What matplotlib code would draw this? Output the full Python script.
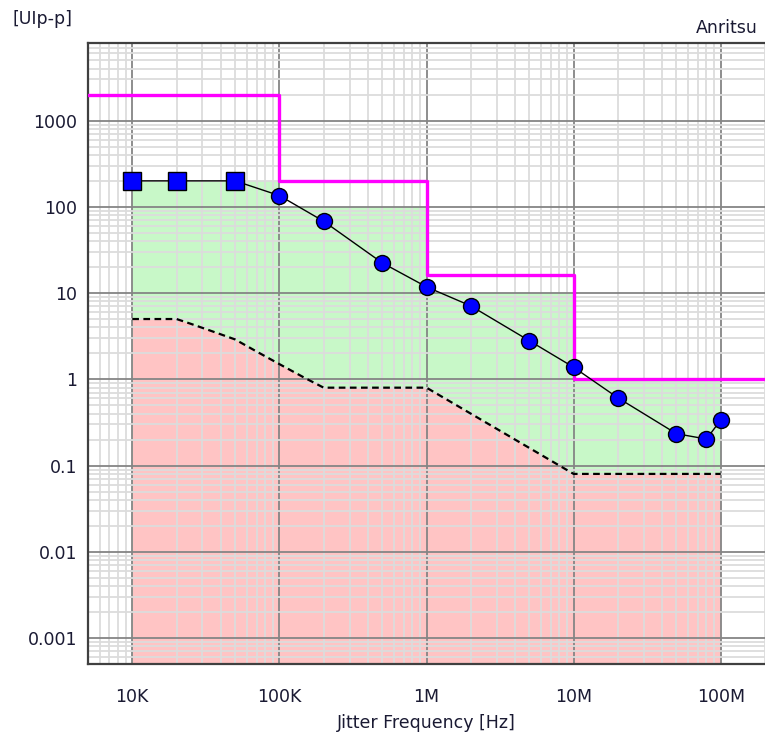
import matplotlib
matplotlib.use("Agg")
import matplotlib.pyplot as plt
import numpy as np
from matplotlib.ticker import LogLocator, FixedLocator, NullFormatter

# ---- data ----
sq_freq = [1e4, 2e4, 5e4]
sq_vals = [200, 200, 200]
circ_freq = [1e5, 2e5, 5e5, 1e6, 2e6, 5e6, 1e7, 2e7, 5e7, 8e7, 1e8]
circ_vals = [135, 68, 22.4, 11.8, 7.1, 2.8, 1.38, 0.61, 0.234, 0.203, 0.337]

mask_freq = [5e3, 1e5, 1e6, 1e7, 2e8]
mask_vals = [2000, 200, 16, 1, 1]

green_freq = [1e4, 1e5, 1e6, 1e7, 1e8]
green_vals = [200, 100, 10, 1, 1]

low_freq = [1e4, 2e4, 2.5e4, 3.5e4, 5e4, 7e4, 1e5, 1.5e5, 2e5, 1e6, 1e7, 1e8]
low_vals = [5, 5, 4.4, 3.6, 2.9, 2.1, 1.5, 1.03, 0.8, 0.8, 0.08, 0.08]

x_ticks = [1e4, 1e5, 1e6, 1e7, 1e8]
x_labels = ["10K", "100K", "1M", "10M", "100M"]
y_ticks = [1e3, 1e2, 1e1, 1, 0.1, 0.01, 0.001]
y_labels = ["1000", "100", "10", "1", "0.1", "0.01", "0.001"]

plt.rcParams['font.family'] = ['DejaVu Sans']

fig = plt.figure(figsize=(7.65, 7.34), dpi=100)
ax = fig.add_axes([88/765, 70/734, 1 - 88/765, (664 - 42.7)/734])
ax.set_xscale('log')
ax.set_yscale('log')
ax.set_xlim(5e3, 2e8)
ax.set_ylim(5e-4, 8e3)

bottom = 1e-6
# green region
ax.fill_between(green_freq, bottom, green_vals, step='post', color='#c8f8c8', lw=0, zorder=0.2)
# pink region
ax.fill_between(low_freq, bottom, low_vals, color='#ffc4c4', lw=0, zorder=0.3)

# grid
ax.set_axisbelow(True)
ax.xaxis.set_major_locator(FixedLocator(x_ticks))
ax.yaxis.set_major_locator(FixedLocator(y_ticks))
ax.xaxis.set_minor_locator(LogLocator(base=10, subs=np.arange(2, 10), numticks=50))
ax.yaxis.set_minor_locator(LogLocator(base=10, subs=np.arange(2, 10), numticks=50))
ax.xaxis.set_minor_formatter(NullFormatter())
ax.yaxis.set_minor_formatter(NullFormatter())
ax.grid(which='minor', color='#dcdcdc', lw=1.3, zorder=0.5)
ax.grid(which='major', color='#858585', lw=1.3, zorder=0.6)
for gl in ax.get_xgridlines() + ax.get_ygridlines():
    gl.set_zorder(0.6)

ax.set_xticks(x_ticks)
ax.set_xticklabels(x_labels)
ax.set_yticks(y_ticks)
ax.set_yticklabels(y_labels)
ax.tick_params(which='both', length=0)
ax.tick_params(axis='x', pad=17, labelsize=12.5, labelcolor='#1a1a33')
ax.tick_params(axis='y', pad=8, labelsize=12.5, labelcolor='#1a1a33')

for s in ['left', 'top', 'bottom']:
    ax.spines[s].set_color('#404040')
    ax.spines[s].set_linewidth(1.6)
ax.spines['right'].set_visible(False)

# magenta mask
ax.step(mask_freq, mask_vals, where='post', color='#ff00ff', lw=2.4, zorder=3)

# lower dashed line
ax.plot(low_freq, low_vals, color='black', lw=1.6, ls=(0, (3, 2)), zorder=3)

# measured line
ax.plot(sq_freq + circ_freq, sq_vals + circ_vals, color='black', lw=1.0, zorder=4)
ax.plot(sq_freq, sq_vals, ls='none', marker='s', ms=13, mfc='#0000ff', mec='black', mew=1.0, zorder=5)
ax.plot(circ_freq, circ_vals, ls='none', marker='o', ms=11.5, mfc='#0000ff', mec='black', mew=1.0, zorder=5)

ax.set_xlabel('Jitter Frequency [Hz]', fontsize=12.5, color='#1a1a33', labelpad=6)
fig.text(12/765, 1 - 19/734, '[UIp-p]', fontsize=12.5, color='#1a1a33', ha='left', va='center')
fig.text(758/765, 1 - 28/734, 'Anritsu', fontsize=12.5, color='#1a1a33', ha='right', va='center')

fig.savefig('out.png', dpi=100)
